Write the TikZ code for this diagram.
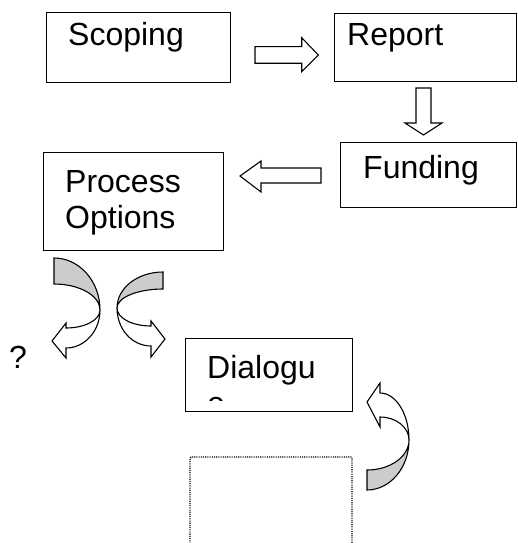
\documentclass[tikz,border=0pt]{standalone}
\usepackage{fontspec}
\setmainfont{Liberation Sans}
\begin{document}
\begin{tikzpicture}[x=1pt,y=-1pt,
  box/.style={draw=black, line width=1.2pt, fill=white, inner sep=0pt, anchor=north west},
  lbl/.style={font=\fontsize{32}{36}\selectfont, inner sep=0pt, anchor=base west, align=left},
  blockarrow/.style={draw=black, line width=1.1pt, fill=white, line join=miter},
  backside/.style={draw=black, line width=1.1pt, fill=black!20, line join=miter},
  dotbox/.style={draw=black, line width=1.1pt, dash pattern=on 1.1pt off 1.1pt, rounded corners=1pt}]
\useasboundingbox (0,0) rectangle (517,543);

% boxes
\node[box, minimum width=184pt, minimum height=70pt] (scoping) at (46,12) {};
\node[lbl] (scopingtxt) at (68,46) {Scoping};
\node[box, minimum width=182pt, minimum height=68pt] (report) at (334,13) {};
\node[lbl] (reporttxt) at (347,46) {Report};
\node[box, minimum width=176pt, minimum height=65pt] (funding) at (340,142) {};
\node[lbl] (fundingtxt) at (363,178) {Funding};
\node[box, minimum width=180pt, minimum height=98pt] (process) at (43,152) {};
\node[lbl] (processtxt) at (65,228) {Process\\Options};
\node[box, minimum width=167pt, minimum height=73pt] (dialogue) at (185,338) {};
\begin{scope}
  \clip (186,339) rectangle (351,400.5);
  \node[lbl] (dialoguetxt) at (207,414) {Dialogu\\e};
\end{scope}
\node[lbl] (question) at (9,368) {?};
\draw[dotbox] (190,548) -- (190,457) -- (352,457) -- (352,548);

% straight block arrows
\draw[blockarrow] (255,46.7) -- (301.7,46.7) -- (301.7,37.7) -- (318.3,55) -- (301.7,71.7) -- (301.7,63.3) -- (255,63.3) -- cycle;
\draw[blockarrow] (416,88) -- (431,88) -- (431,123) -- (442,123) -- (423.5,135) -- (405,123) -- (416,123) -- cycle;
\draw[blockarrow] (321,168) -- (261,168) -- (261,161) -- (240,176) -- (261,192) -- (261,183) -- (321,183) -- cycle;

% left curved arrow (down-left)
\draw[backside] (54,258) .. controls (79.4,258) and (100,281.3) .. (100,310)
  .. controls (100,295.6) and (79.4,284) .. (54,284) -- cycle;
\draw[blockarrow] (100,310) .. controls (100,320) and (84.8,328) .. (66,328)
  -- (66,323) -- (52,341) -- (66,358) -- (66,348)
  .. controls (84.8,348) and (100,331) .. (100,310) -- cycle;

% right curved arrow (down-right)
\draw[backside] (163,272) .. controls (137.6,272) and (117,288) .. (117,308)
  .. controls (117,297.5) and (137.6,289) .. (163,289) -- cycle;
\draw[blockarrow] (117,308) .. controls (117,318) and (132,326) .. (151,326)
  -- (151,321) -- (165,339) -- (151,357) -- (151,346)
  .. controls (132,346) and (117,329) .. (117,308) -- cycle;

% bottom right curved arrow (up-left)
\draw[backside] (409,440) .. controls (409,467.6) and (390.2,490) .. (367,490)
  -- (367,470) .. controls (390.2,470) and (409,456.6) .. (409,440) -- cycle;
\draw[blockarrow] (367,402) -- (380,383) -- (380,393)
  .. controls (396,393) and (409,414) .. (409,440)
  .. controls (409,427.3) and (396,417) .. (380,417) -- (380,427) -- cycle;
\end{tikzpicture}
\end{document}
